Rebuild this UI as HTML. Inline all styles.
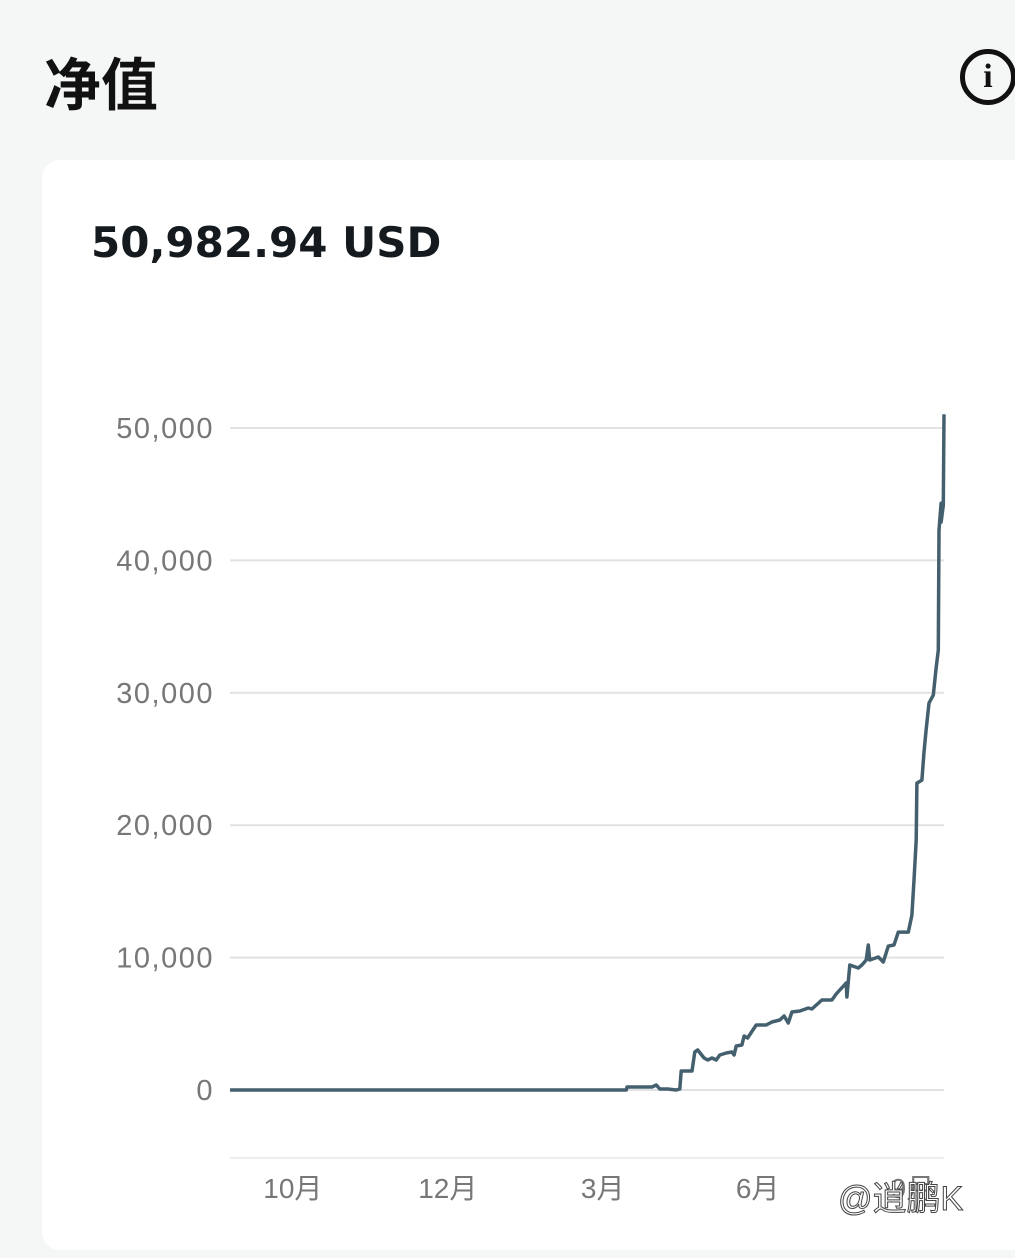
<!DOCTYPE html>
<html><head><meta charset="utf-8"><style>
body{margin:0;width:1015px;height:1258px;background:#f5f7f7;overflow:hidden;position:relative;font-family:"Liberation Sans","Noto Sans CJK SC",sans-serif}
#title{position:absolute;left:44px;top:40px;font-size:57px;font-weight:bold;color:#111}
#info{position:absolute;left:960px;top:49px;width:56px;height:56px;border:5px solid #111;border-radius:50%;box-sizing:border-box;text-align:center;font:bold 34px "Liberation Serif",serif;line-height:46px;color:#111}
#card{position:absolute;left:42px;top:160px;width:1000px;height:1090px;background:#fff;border-radius:18px}
#amount{position:absolute;left:91px;top:218px;font-size:42px;font-weight:bold;color:#151a1e;font-family:"DejaVu Sans",sans-serif}
svg{position:absolute;left:0;top:0}
</style></head><body>
<div id="title">净值</div>
<div id="info">i</div>
<div id="card"></div>
<div id="amount">50,982.94 USD</div>
<svg id="chart" width="1015" height="1258"></svg>
<script>
const yTicks=[0,10000,20000,30000,40000,50000];
const yTickLabels=["0","10,000","20,000","30,000","40,000","50,000"];
const xTickPos=[8.8,30.5,52.2,73.9,95.6];
const xTickLabels=["10月","12月","3月","6月","9月"];
const seriesT=[0,55.5,55.6,59.1,59.7,60.2,61.3,62.5,63.0,63.2,64.7,65.1,65.5,66.4,66.9,67.5,68.1,68.6,69.5,70.3,70.6,70.9,71.7,72.0,72.5,73.7,75.1,75.9,77.0,77.6,78.2,78.7,79.8,81.0,81.5,82.9,84.3,84.9,85.4,86.3,86.4,86.8,88.0,88.5,89.1,89.4,89.6,90.8,91.5,92.2,93.0,93.6,95.0,95.5,95.8,96.1,96.2,96.9,97.2,97.5,97.9,98.5,98.9,99.2,99.3,99.6,99.6,99.9,100];
const seriesV=[0,0,227,227,378,76,76,0,76,1435,1435,2870,3020,2416,2265,2416,2265,2643,2794,2870,2643,3322,3398,4077,3926,4908,4908,5134,5285,5587,5059,5889,5965,6191,6116,6795,6795,7248,7550,8079,7022,9438,9211,9438,9815,10948,9815,10042,9664,10872,10948,11929,11929,13213,15855,18875,23179,23405,25519,27180,29219,29823,31861,33220,42280,44319,42884,44168,51038];
const NS="http://www.w3.org/2000/svg";
const svg=document.getElementById('chart');
const x=t=>230+t/100*714;
const y=v=>1090-v/10000*132.4;
function mk(tag,at){const e=document.createElementNS(NS,tag);for(const k in at)e.setAttribute(k,at[k]);svg.appendChild(e);return e;}
yTicks.forEach((v,i)=>{
 const l=mk('line',{x1:230,x2:944,y1:y(v),y2:y(v),stroke:'#e2e2e2','stroke-width':2});
 
 
 const t=mk('text',{x:214,y:y(v)+10,'text-anchor':'end','font-size':29,'letter-spacing':1.5,fill:'#777','font-family':'Liberation Sans, sans-serif'});
 t.textContent=yTickLabels[i];
 
 
});
const ax=mk('line',{x1:230,x2:944,y1:1158,y2:1158,stroke:'#eeeeee','stroke-width':2});


xTickPos.forEach((p,i)=>{
 const t=mk('text',{x:x(p),y:1198,'text-anchor':'middle','font-size':28,fill:'#777','font-family':'Liberation Sans, Noto Sans CJK SC, sans-serif'});
 t.textContent=xTickLabels[i];
 
 
});
const d=seriesT.map((t,i)=>(i?'L':'M')+x(t).toFixed(1)+','+y(seriesV[i]).toFixed(1)).join('');
const p=mk('path',{d:d,fill:'none',stroke:'#44606f','stroke-width':3.5,'stroke-linejoin':'round'});


const w=mk('text',{x:838,y:1210,'font-size':34,fill:'#fff',stroke:'#444','stroke-width':1,'font-family':'Liberation Sans, Noto Sans CJK SC, sans-serif'});
w.textContent='@逍鹏K';


</script>
</body></html>
